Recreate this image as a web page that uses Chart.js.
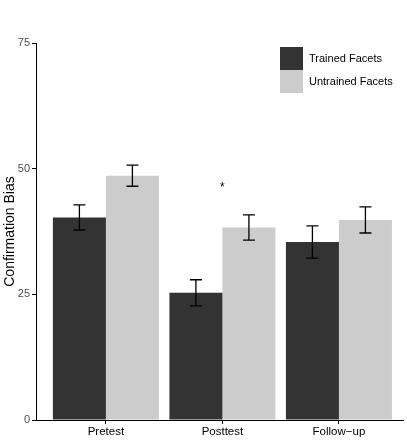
<!DOCTYPE html>
<html lang="en">
<head>
    <meta charset="UTF-8">
    <title>Confirmation Bias</title>
    <style>
        body { margin: 0; background: #ffffff; }
        canvas { display: block; }
    </style>
</head>
<body>
    <canvas id="biasChart" width="407" height="444"></canvas>
    <script src="https://cdn.jsdelivr.net/npm/chart.js"></script>
    <script>
        const categories = ['Pretest', 'Posttest', 'Follow\u2212up'];
        const seriesNames = ['Trained Facets', 'Untrained Facets'];
        const trainedMeans = [40.3, 25.3, 35.4];
        const trainedErr = [2.5, 2.6, 3.2];
        const untrainedMeans = [48.6, 38.3, 39.8];
        const untrainedErr = [2.1, 2.5, 2.6];
        const sigMarks = ['', '*', ''];
        const sigLevels = [null, 46.7, null];
        const yTicks = [0, 25, 50, 75];

        const font = 'Liberation Sans, Arial, sans-serif';
        const colors = ['#333333', '#cccccc'];
        const errors = [trainedErr, untrainedErr];

        // error bars + significance star
        const errorBars = {
            id: 'errorBars',
            afterDatasetsDraw(chart) {
                const ctx = chart.ctx;
                const y = chart.scales.y;
                ctx.save();
                ctx.strokeStyle = '#000000';
                ctx.lineWidth = 1.3;
                chart.data.datasets.forEach((ds, i) => {
                    const meta = chart.getDatasetMeta(i);
                    meta.data.forEach((bar, j) => {
                        const v = ds.data[j].y;
                        const e = errors[i][j];
                        const top = y.getPixelForValue(v + e);
                        const bot = y.getPixelForValue(v - e);
                        ctx.beginPath();
                        ctx.moveTo(bar.x, top); ctx.lineTo(bar.x, bot);
                        ctx.moveTo(bar.x - 6, top); ctx.lineTo(bar.x + 6, top);
                        ctx.moveTo(bar.x - 6, bot); ctx.lineTo(bar.x + 6, bot);
                        ctx.stroke();
                    });
                });
                ctx.fillStyle = '#000000';
                ctx.font = '12px ' + font;
                ctx.textAlign = 'center';
                ctx.textBaseline = 'middle';
                sigMarks.forEach((m, j) => {
                    if (!m) return;
                    ctx.fillText(m, chart.scales.x.getPixelForValue(j + 1), y.getPixelForValue(sigLevels[j]) + 2);
                });
                ctx.restore();
            }
        };

        // stacked square legend, top right
        const boxLegend = {
            id: 'boxLegend',
            afterDraw(chart) {
                const ctx = chart.ctx;
                const area = chart.chartArea;
                const x0 = area.right - 123;
                const y0 = area.top + 4;
                ctx.save();
                ctx.font = '11px ' + font;
                ctx.textBaseline = 'middle';
                chart.data.datasets.forEach((ds, i) => {
                    ctx.fillStyle = ds.backgroundColor;
                    ctx.fillRect(x0, y0 + i * 23, 23, 23);
                    ctx.fillStyle = '#000000';
                    ctx.fillText(ds.label, x0 + 29, y0 + i * 23 + 12);
                });
                ctx.restore();
            }
        };

        const ctx = document.getElementById('biasChart').getContext('2d');
        new Chart(ctx, {
            type: 'bar',
            data: {
                datasets: [
                    {
                        label: seriesNames[0],
                        data: trainedMeans.map((v, i) => ({ x: i + 1, y: v })),
                        backgroundColor: colors[0],
                        borderWidth: 0
                    },
                    {
                        label: seriesNames[1],
                        data: untrainedMeans.map((v, i) => ({ x: i + 1, y: v })),
                        backgroundColor: colors[1],
                        borderWidth: 0
                    }
                ]
            },
            options: {
                responsive: false,
                animation: false,
                layout: { padding: { top: 43, right: 4, left: 0, bottom: 0 } },
                datasets: { bar: { categoryPercentage: 0.91, barPercentage: 1.0 } },
                plugins: {
                    legend: { display: false },
                    tooltip: { enabled: false }
                },
                scales: {
                    x: {
                        type: 'linear',
                        min: 0.4,
                        max: 3.55,
                        offset: false,
                        afterBuildTicks: s => { s.ticks = categories.map((c, i) => ({ value: i + 1 })); },
                        afterFit: s => { s.height = 24; },
                        ticks: {
                            callback: v => categories[v - 1],
                            color: '#000000',
                            font: { family: font, size: 11.5 },
                            padding: 1,
                            maxRotation: 0
                        },
                        grid: { offset: false, drawOnChartArea: false, tickLength: 4, color: '#000000' },
                        border: { color: '#000000', width: 1 }
                    },
                    y: {
                        min: 0,
                        max: 75,
                        afterBuildTicks: s => { s.ticks = yTicks.map(v => ({ value: v })); },
                        afterFit: s => { s.width = 36; },
                        ticks: {
                            color: '#4d4d4d',
                            font: { family: font, size: 11 },
                            padding: 2
                        },
                        grid: { drawOnChartArea: false, tickLength: 4, color: '#000000' },
                        border: { color: '#000000', width: 1 },
                        title: {
                            display: true,
                            text: 'Confirmation Bias',
                            color: '#000000',
                            font: { family: font, size: 14 },
                            padding: { top: 2, bottom: 0 }
                        }
                    }
                }
            },
            plugins: [errorBars, boxLegend]
        });
    </script>
</body>
</html>
